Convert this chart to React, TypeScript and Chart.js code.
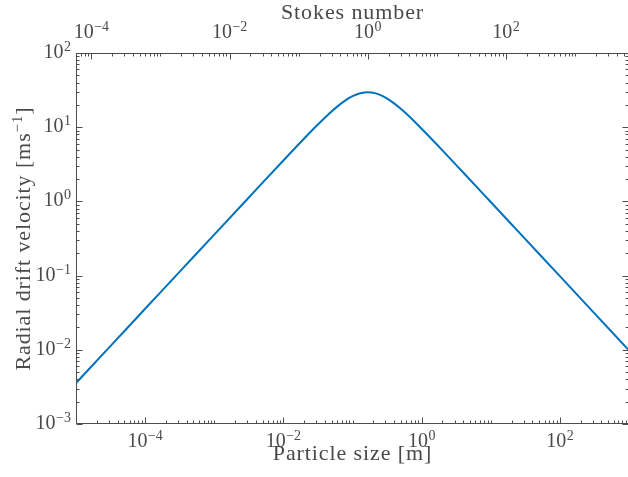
import React, { useEffect, useRef } from 'react';
import { Chart, registerables } from 'chart.js';

Chart.register(...registerables);

// ---- data ----
const particleSize = [
  1e-5, 3e-5, 1e-4, 3e-4, 1e-3, 3e-3, 0.01, 0.02, 0.03, 0.045, 0.06, 0.08, 0.1,
  0.125, 0.15, 0.166, 0.185, 0.21, 0.25, 0.3, 0.4, 0.55, 0.8, 1, 2, 4, 10, 30,
  100, 300, 1000,
];
const driftVelocity = [
  0.00357, 0.0107, 0.0357, 0.107, 0.357, 1.07, 3.56, 7.04, 10.37, 14.96, 18.94,
  23.17, 26.18, 28.46, 29.45, 29.6, 29.42, 28.79, 27.27, 25.07, 20.94, 16.36,
  11.77, 9.55, 4.88, 2.45, 0.981, 0.327, 0.0982, 0.0327, 0.00982,
];

const sizeRange = [1e-5, 1e3];
const velocityRange = [1e-3, 1e2];
const stokesRange = [6.0e-5, 6.0e3];

const sizeTickExponents = [-4, -2, 0, 2];
const stokesTickExponents = [-4, -2, 0, 2];
const velocityTickExponents = [-3, -2, -1, 0, 1, 2];

const xTitle = 'Particle size [m]';
const topTitle = 'Stokes number';
const yTitleParts = ['Radial drift velocity [ms', '\u22121', ']'];

// ---- styles ----
const FONT = '"Liberation Serif", "Times New Roman", serif';
const TEXT_COLOR = '#4a4a4a';
const AXIS_COLOR = '#4d4d4d';
const LINE_COLOR = '#0072BD';
const MAJOR = 6;
const MINOR = 3;

function expText(e: number) {
  return String(e).replace('-', '\u2212');
}

function drawPower(
  ctx: CanvasRenderingContext2D,
  exp: number,
  x: number,
  y: number,
  align: 'center' | 'right'
) {
  const main = `20px ${FONT}`;
  const sup = `14px ${FONT}`;
  ctx.font = main;
  const wb = ctx.measureText('10').width;
  ctx.font = sup;
  const es = expText(exp);
  const we = ctx.measureText(es).width;
  const gap = 0.5;
  const total = wb + gap + we;
  const sx = align === 'center' ? x - total / 2 : x - total;
  ctx.textAlign = 'left';
  ctx.textBaseline = 'alphabetic';
  ctx.font = main;
  ctx.fillText('10', sx, y);
  ctx.font = sup;
  ctx.fillText(es, sx + wb + gap, y - 7);
}

const axesPlugin = {
  id: 'matlabAxes',
  afterDatasetsDraw(chart: any) {
    const { ctx, chartArea } = chart;
    const { left, right, top, bottom } = chartArea;
    const xs = chart.scales.x;
    const ys = chart.scales.y;
    const x2 = chart.scales.x2;
    ctx.save();
    ctx.strokeStyle = AXIS_COLOR;
    ctx.lineWidth = 1;

    const L = Math.round(left) + 0.5;
    const R = Math.round(right) - 0.5;
    const T = Math.round(top) + 0.5;
    const B = Math.round(bottom) - 0.5;

    ctx.beginPath();
    ctx.moveTo(L, T);
    ctx.lineTo(R, T);
    ctx.lineTo(R, B);
    ctx.lineTo(L, B);
    ctx.closePath();
    ctx.stroke();

    const eachTick = (
      scale: any,
      labeled: number[],
      cb: (px: number, major: boolean) => void
    ) => {
      const e0 = Math.floor(Math.log10(scale.min)) - 1;
      const e1 = Math.ceil(Math.log10(scale.max)) + 1;
      for (let e = e0; e <= e1; e++) {
        for (let m = 1; m <= 9; m++) {
          const v = m * Math.pow(10, e);
          if (v < scale.min * 0.9999 || v > scale.max * 1.0001) continue;
          const px = scale.getPixelForValue(v);
          cb(px, m === 1 && labeled.includes(e));
        }
      }
    };

    ctx.beginPath();
    // bottom: particle size
    eachTick(xs, sizeTickExponents, (px, major) => {
      const p = Math.round(px) + 0.5;
      ctx.moveTo(p, B);
      ctx.lineTo(p, B - (major ? MAJOR : MINOR));
    });
    // top: Stokes number
    eachTick(x2, stokesTickExponents, (px, major) => {
      const p = Math.round(px) + 0.5;
      ctx.moveTo(p, T);
      ctx.lineTo(p, T + (major ? MAJOR : MINOR));
    });
    // left & right: velocity
    eachTick(ys, velocityTickExponents, (py, major) => {
      const p = Math.round(py) + 0.5;
      const len = major ? MAJOR : MINOR;
      ctx.moveTo(L, p);
      ctx.lineTo(L + len, p);
      ctx.moveTo(R, p);
      ctx.lineTo(R - len, p);
    });
    ctx.stroke();

    // tick labels
    ctx.fillStyle = TEXT_COLOR;
    sizeTickExponents.forEach((e) => {
      drawPower(ctx, e, xs.getPixelForValue(Math.pow(10, e)), 446.5, 'center');
    });
    stokesTickExponents.forEach((e) => {
      drawPower(ctx, e, x2.getPixelForValue(Math.pow(10, e)), 37.5, 'center');
    });
    velocityTickExponents.forEach((e) => {
      drawPower(ctx, e, 71, ys.getPixelForValue(Math.pow(10, e)) + 5, 'right');
    });

    // axis titles
    const cx = (left + right) / 2;
    const cy = (top + bottom) / 2;
    ctx.font = `22px ${FONT}`;
    (ctx as any).letterSpacing = '0.9px';
    ctx.textAlign = 'center';
    ctx.textBaseline = 'alphabetic';
    ctx.fillText(xTitle, cx, 460);
    ctx.fillText(topTitle, cx, 19);

    // rotated y title with superscript
    ctx.save();
    ctx.translate(30, cy);
    ctx.rotate(-Math.PI / 2);
    ctx.textAlign = 'left';
    ctx.font = `22px ${FONT}`;
    const w0 = ctx.measureText(yTitleParts[0]).width;
    const w2 = ctx.measureText(yTitleParts[2]).width;
    ctx.font = `15px ${FONT}`;
    const w1 = ctx.measureText(yTitleParts[1]).width;
    const total = w0 + w1 + w2;
    let sx = -total / 2;
    ctx.font = `22px ${FONT}`;
    ctx.fillText(yTitleParts[0], sx, 0);
    sx += w0;
    ctx.font = `15px ${FONT}`;
    ctx.fillText(yTitleParts[1], sx, -8);
    sx += w1;
    ctx.font = `22px ${FONT}`;
    ctx.fillText(yTitleParts[2], sx, 0);
    ctx.restore();

    (ctx as any).letterSpacing = '0px';
    ctx.restore();
  },
};

export default function App() {
  const canvasRef = useRef<HTMLCanvasElement | null>(null);

  useEffect(() => {
    const canvas = canvasRef.current;
    if (!canvas) return;
    const chart = new Chart(canvas, {
      type: 'line',
      data: {
        datasets: [
          {
            data: particleSize.map((s, i) => ({ x: s, y: driftVelocity[i] })),
            borderColor: LINE_COLOR,
            borderWidth: 2,
            pointRadius: 0,
            fill: false,
            cubicInterpolationMode: 'monotone',
          },
        ],
      },
      options: {
        animation: false,
        responsive: false,
        devicePixelRatio: 1,
        events: [],
        layout: { padding: { left: 76, top: 53, right: 11, bottom: 53 } },
        plugins: {
          legend: { display: false },
          tooltip: { enabled: false },
        },
        scales: {
          x: {
            type: 'logarithmic',
            min: sizeRange[0],
            max: sizeRange[1],
            display: false,
          },
          x2: {
            type: 'logarithmic',
            position: 'top',
            min: stokesRange[0],
            max: stokesRange[1],
            display: false,
          },
          y: {
            type: 'logarithmic',
            min: velocityRange[0],
            max: velocityRange[1],
            display: false,
          },
        },
      } as any,
      plugins: [axesPlugin],
    });
    return () => chart.destroy();
  }, []);

  return (
    <div
      style={{
        position: 'fixed',
        left: 0,
        top: 0,
        width: 628,
        height: 477,
        overflow: 'hidden',
        background: '#fff',
      }}
    >
      <canvas ref={canvasRef} width={640} height={477} style={{ display: 'block' }} />
    </div>
  );
}
